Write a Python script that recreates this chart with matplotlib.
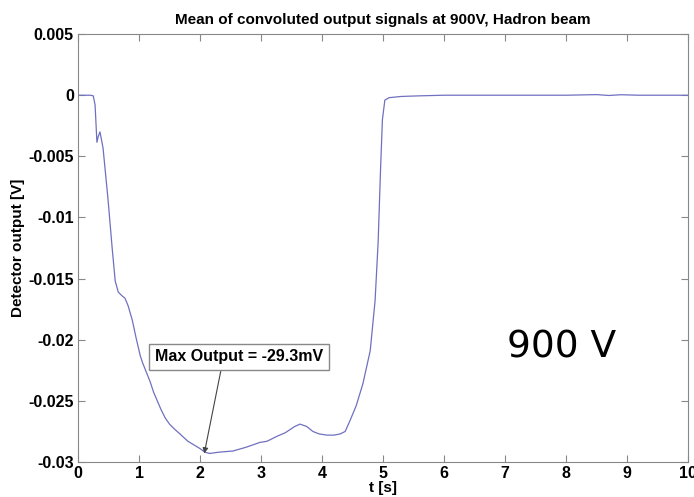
import matplotlib as mpl
mpl.use('Agg')
import matplotlib.pyplot as plt

# time [s] and mean detector output [mV]
t = [0, 0.1, 0.2, 0.25, 0.28, 0.31, 0.33, 0.36, 0.41, 0.49, 0.56, 0.61, 0.66,
     0.72, 0.77, 0.82, 0.89, 0.95, 1.02, 1.06, 1.1, 1.14, 1.18, 1.24, 1.3,
     1.36, 1.43, 1.5, 1.58, 1.67, 1.8, 1.9, 2.0, 2.08, 2.16, 2.3, 2.54, 2.75,
     2.98, 3.1, 3.26, 3.4, 3.55, 3.64, 3.75, 3.85, 3.95, 4.08, 4.2, 4.3, 4.38,
     4.46, 4.56, 4.67, 4.79, 4.87, 4.92, 4.96, 4.99, 5.03, 5.1, 5.3, 5.6, 6.0,
     7.0, 8.0, 8.5, 8.7, 8.9, 9.2, 10.0]
v_mV = [0, 0, 0, -0.05, -0.8, -3.85, -3.4, -3.0, -4.3, -8.4, -12.5, -15.2,
        -16.1, -16.4, -16.6, -17.2, -18.4, -19.8, -21.3, -21.9, -22.4, -22.9,
        -23.4, -24.3, -25.0, -25.7, -26.4, -26.9, -27.3, -27.7, -28.3, -28.6,
        -28.9, -29.2, -29.3, -29.2, -29.1, -28.8, -28.4, -28.3, -27.9, -27.6,
        -27.1, -26.9, -27.1, -27.5, -27.7, -27.8, -27.8, -27.7, -27.5, -26.6,
        -25.4, -23.6, -20.9, -16.8, -12.0, -6.0, -2.0, -0.4, -0.2, -0.1,
        -0.05, 0, 0, 0, 0.05, -0.02, 0.04, 0, 0]
v = [x / 1000.0 for x in v_mV]

peak_t = 2.07
peak_v = -0.0293

plt.rcParams['font.family'] = ['Liberation Sans', 'DejaVu Sans']
gray = '#888888'

fig = plt.figure(figsize=(6.94, 4.97), dpi=100)
ax = fig.add_axes([0.1124, 0.0704, 0.879, 0.861])
ax.plot(t, v, color='#7070c0', lw=0.9)

ax.set_xlim(0, 10)
ax.set_ylim(-0.03, 0.005)
ax.set_xticks(range(0, 11))
ax.set_yticks([0.005, 0, -0.005, -0.01, -0.015, -0.02, -0.025, -0.03])
ax.set_yticklabels(['0.005', '0', '-0.005', '-0.01', '-0.015', '-0.02',
                    '-0.025', '-0.03'])
for s in ax.spines.values():
    s.set_color(gray)
ax.tick_params(direction='in', top=True, right=True, length=5, color=gray,
               labelsize=11.5, pad=3)
for lab in ax.get_xticklabels() + ax.get_yticklabels():
    lab.set_fontweight('bold')

ax.set_title('Mean of convoluted output signals at 900V, Hadron beam',
             fontsize=11, fontweight='bold', pad=7)
ax.set_xlabel('t [s]', fontsize=11, fontweight='bold', labelpad=0)
ax.set_ylabel('Detector output [V]', fontsize=11, fontweight='bold', labelpad=2)

ax.annotate('Max Output = -29.3mV', xy=(peak_t, peak_v), xytext=(1.26, -0.0214),
            fontsize=11.5, fontweight='bold', va='center',
            bbox=dict(boxstyle='square,pad=0.35', fc='white', ec=gray, lw=1),
            arrowprops=dict(arrowstyle='-|>', color='#444444', lw=0.8,
                            mutation_scale=8, shrinkA=0, shrinkB=0,
                            relpos=(0.4, 0)))

ax.text(7.03, -0.0206, '900 V', fontsize=27, family='DejaVu Sans', va='center')

fig.savefig('out.png', dpi=100)
